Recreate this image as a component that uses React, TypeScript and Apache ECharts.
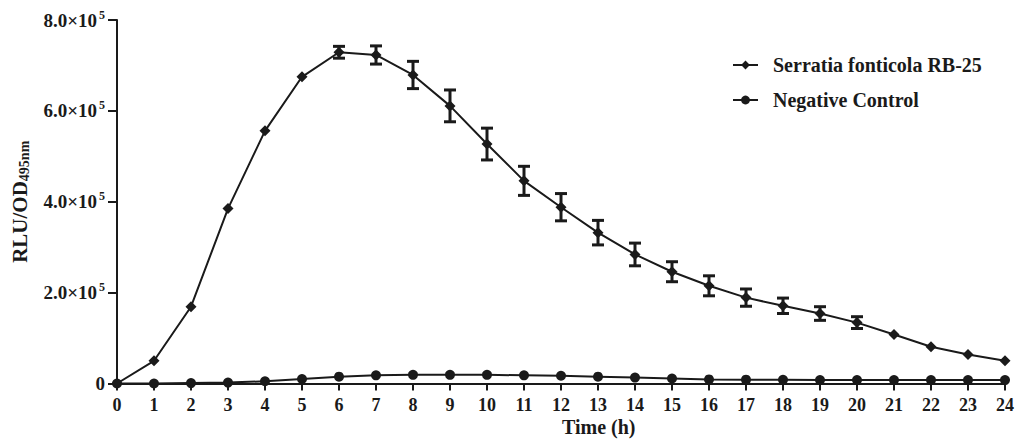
import React, { useEffect, useRef } from "react";
import * as echarts from "echarts";

const hours = [0,1,2,3,4,5,6,7,8,9,10,11,12,13,14,15,16,17,18,19,20,21,22,23,24];
const serratia = [0,50000,169000,385000,556000,675000,729000,723000,679000,611000,527000,446000,388000,332000,284000,246000,215000,189000,171000,154000,134000,108000,81000,64000,50000];
const serratiaErr = [0,0,0,0,0,0,13000,20000,30000,35000,35000,32000,30000,27000,25000,22000,22000,19000,17000,15000,13000,0,0,0,0];
const control = [0,0,1000,2000,5000,10000,15000,18000,19000,19000,19000,18000,17000,15000,13000,11000,9000,8500,8000,7500,7500,7500,7500,7500,7500];
const legendNames = ["Serratia fonticola RB-25", "Negative Control"];

const FONT = "'Liberation Serif', 'Times New Roman', serif";
const INK = "#1a1a1a";

export default function App() {
  const ref = useRef<HTMLDivElement>(null);
  useEffect(() => {
    if (!ref.current) return;
    document.body.style.margin = "0";
    const chart = echarts.init(ref.current, null, { renderer: "svg" });
    const errData = hours.map((h, i) => [h, serratia[i] - serratiaErr[i], serratia[i] + serratiaErr[i], serratiaErr[i]]);
    chart.setOption({
      animation: false,
      backgroundColor: "#fff",
      textStyle: { fontFamily: FONT, fontWeight: "bold", color: INK },
      grid: { left: 117, right: 19, top: 20, bottom: 57.5, containLabel: false },
      legend: {
        orient: "vertical",
        left: 727,
        top: 50,
        itemGap: 15,
        itemWidth: 25,
        itemHeight: 11,
        textStyle: { fontFamily: FONT, fontWeight: "bold", fontSize: 20, color: INK, padding: [0, 0, 0, 10] },
        data: legendNames,
      },
      graphic: [
        {
          type: "text",
          left: 562,
          top: 417,
          style: { text: "Time (h)", fontFamily: FONT, fontWeight: "bold", fontSize: 20, fill: INK },
        },
      ],
      xAxis: {
        type: "value",
        min: 0,
        max: 24,
        interval: 1,
        axisLine: { onZero: false, lineStyle: { color: INK, width: 2 } },
        axisTick: { show: true, length: 7, lineStyle: { color: INK, width: 2 } },
        axisLabel: { fontFamily: FONT, fontWeight: "bold", fontSize: 18, color: INK, margin: 12 },
        splitLine: { show: false },
      },
      yAxis: {
        type: "value",
        min: 0,
        max: 800000,
        interval: 200000,
        name: "RLU/OD{sub|495nm}",
        nameLocation: "middle",
        nameGap: 86,
        nameRotate: 90,
        nameTextStyle: {
          fontFamily: FONT, fontWeight: "bold", fontSize: 21, color: INK,
          rich: { sub: { fontFamily: FONT, fontWeight: "bold", fontSize: 14, color: INK, padding: [9, 0, 0, 0] } },
        },
        axisLine: { show: true, lineStyle: { color: INK, width: 2 } },
        axisTick: { show: true, length: 9, lineStyle: { color: INK, width: 2 } },
        axisLabel: {
          margin: 12,
          formatter: (v: number) => (v === 0 ? "{b|0}" : `{b|${(v / 100000).toFixed(1)}×10}{s|5}`),
          rich: {
            b: { fontFamily: FONT, fontWeight: "bold", fontSize: 19, color: INK },
            s: { fontFamily: FONT, fontWeight: "bold", fontSize: 12, color: INK, padding: [0, 0, 11, 2] },
          },
        },
        splitLine: { show: false },
      },
      series: [
        {
          name: legendNames[0],
          type: "line",
          data: hours.map((h, i) => [h, serratia[i]]),
          symbol: "diamond",
          symbolSize: 11,
          lineStyle: { color: INK, width: 2 },
          itemStyle: { color: INK },
          z: 3,
        },
        {
          name: legendNames[1],
          type: "line",
          data: hours.map((h, i) => [h, control[i]]),
          symbol: "circle",
          symbolSize: 10,
          lineStyle: { color: INK, width: 2 },
          itemStyle: { color: INK },
          z: 3,
        },
        {
          name: "err",
          type: "custom",
          data: errData,
          z: 4,
          renderItem: (params: any, api: any) => {
            if (api.value(3) <= 0) return null;
            const x = api.value(0);
            const lo = api.coord([x, api.value(1)]);
            const hi = api.coord([x, api.value(2)]);
            const w = 6;
            const style = { stroke: INK, lineWidth: 3 };
            return {
              type: "group",
              children: [
                { type: "line", shape: { x1: lo[0], y1: lo[1], x2: hi[0], y2: hi[1] }, style },
                { type: "line", shape: { x1: lo[0] - w, y1: lo[1], x2: lo[0] + w, y2: lo[1] }, style },
                { type: "line", shape: { x1: hi[0] - w, y1: hi[1], x2: hi[0] + w, y2: hi[1] }, style },
              ],
            };
          },
        },
      ],
    });
    return () => chart.dispose();
  }, []);
  return <div ref={ref} style={{ width: 1024, height: 441 }} />;
}
